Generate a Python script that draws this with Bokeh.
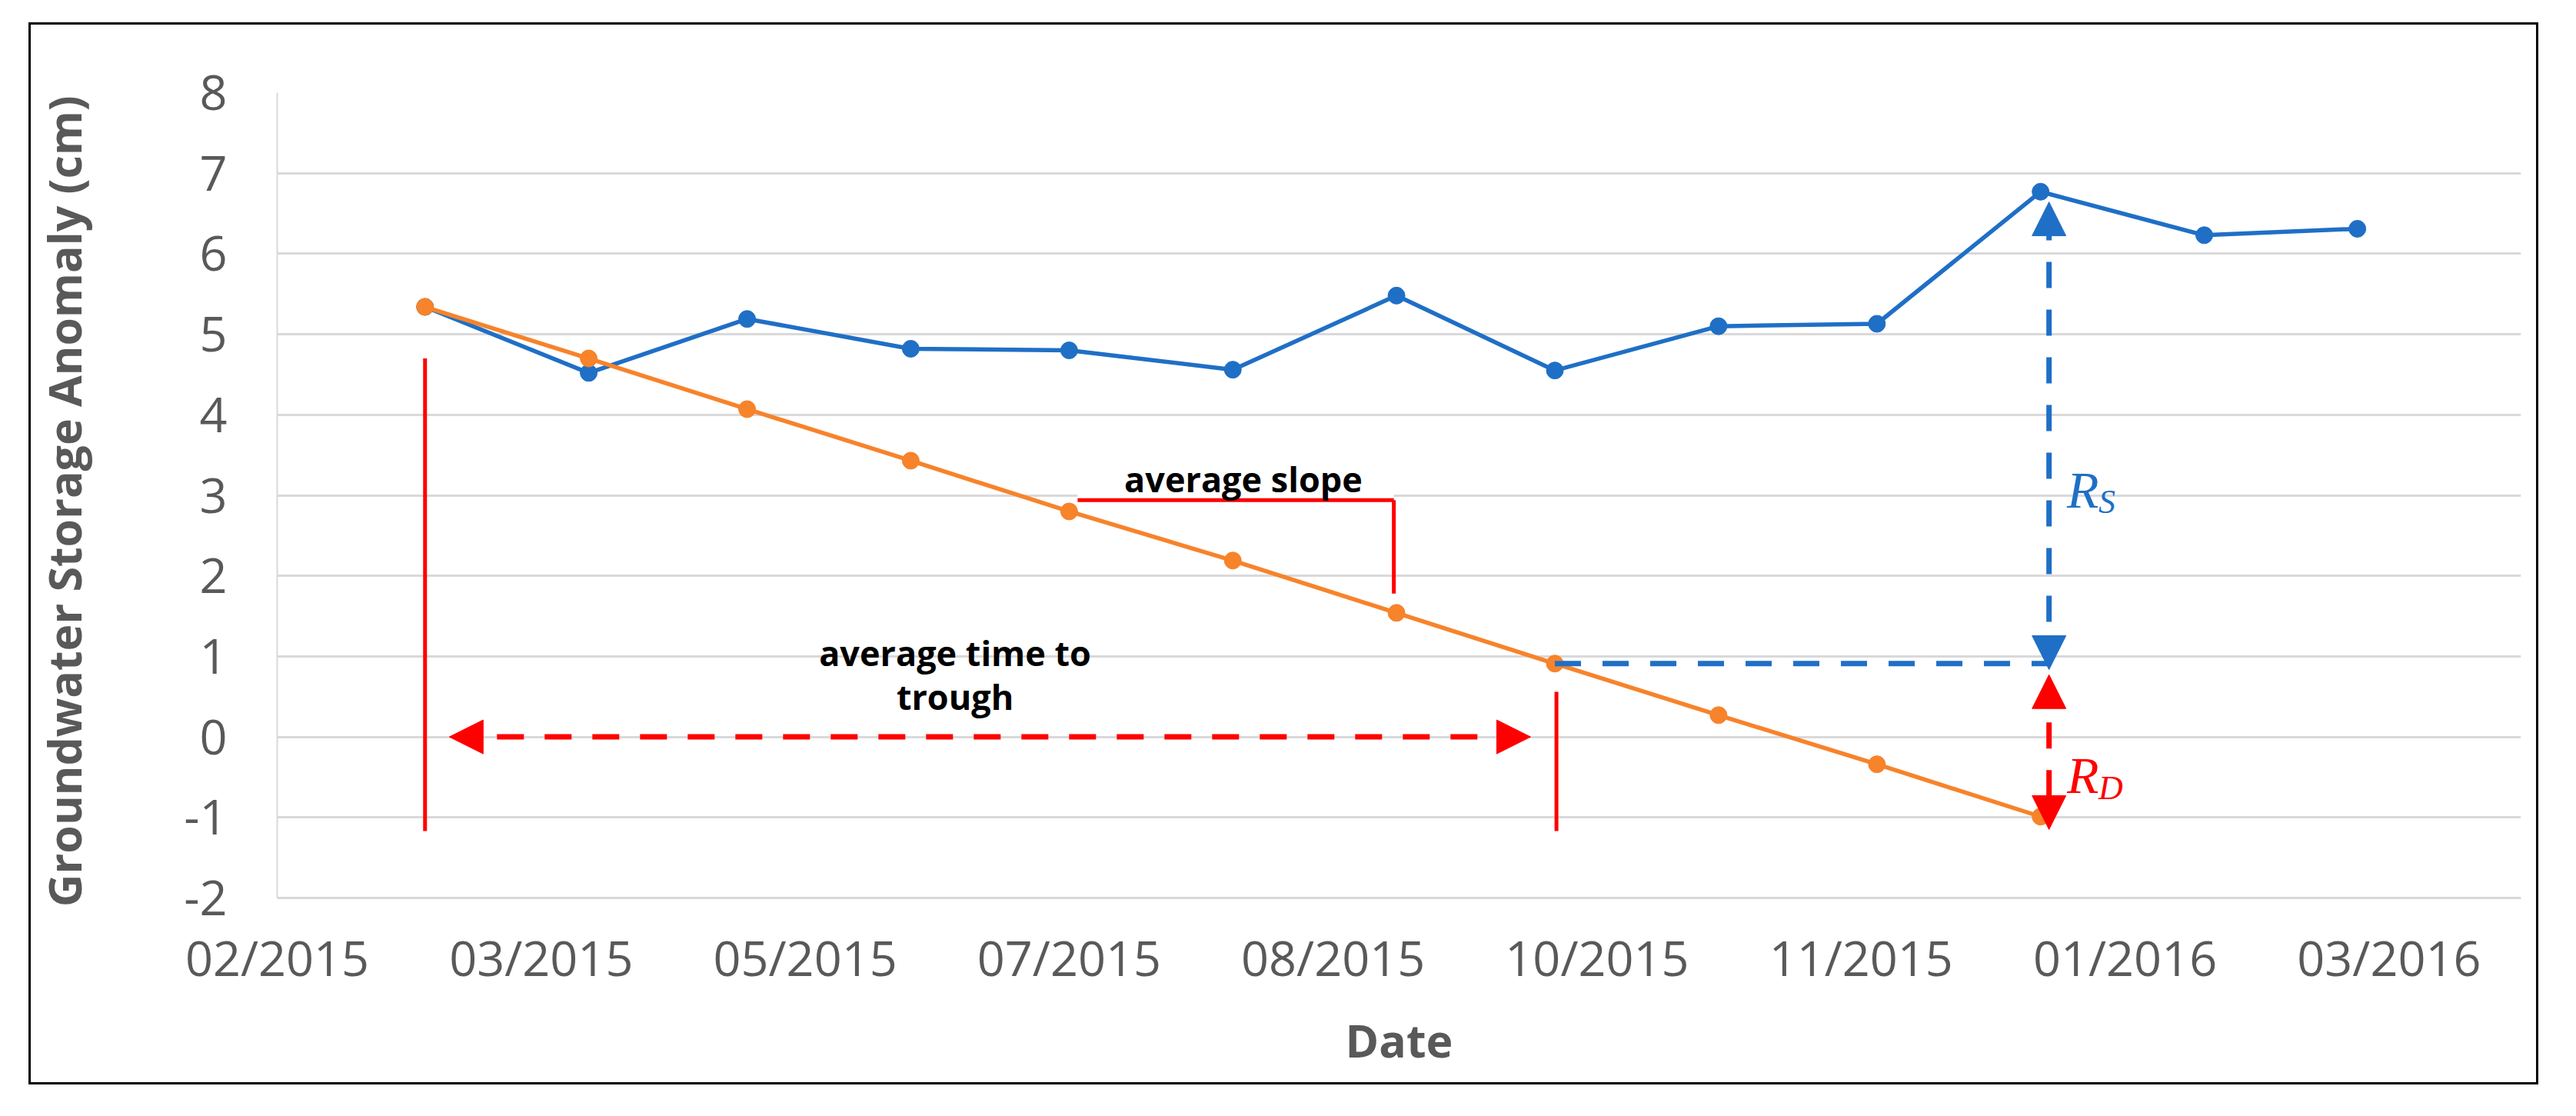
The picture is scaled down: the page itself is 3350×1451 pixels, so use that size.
import pandas as pd
from bokeh.plotting import figure
from bokeh.models import (Range1d, FixedTicker, DatetimeTickFormatter, Arrow,
                          NormalHead, Label)
from bokeh.embed import file_html
from bokeh.resources import INLINE

# ---------------- data ----------------
dates = ["2015-03-01", "2015-04-01", "2015-05-01", "2015-06-01", "2015-07-01",
         "2015-08-01", "2015-09-01", "2015-10-01", "2015-11-01", "2015-12-01",
         "2016-01-01", "2016-02-01", "2016-03-01"]
storage = [5.34, 4.52, 5.19, 4.82, 4.80, 4.56, 5.48, 4.55, 5.10, 5.13, 6.77, 6.23, 6.31]
trend = [5.34, 4.70, 4.07, 3.43, 2.80, 2.19, 1.54, 0.91, 0.27, -0.34, -0.99]
tick_dates = ["2015-02-01", "2015-03-23", "2015-05-12", "2015-07-01", "2015-08-20",
              "2015-10-09", "2015-11-28", "2016-01-17", "2016-03-07"]
y_ticks = [-2, -1, 0, 1, 2, 3, 4, 5, 6, 7, 8]
x_start, x_end = "2015-02-01", "2016-04-01"


def ms(s, days=0.0):
    return (pd.Timestamp(s) + pd.Timedelta(days=days)).value / 1e6


BLUE = "#1f6fc6"
ORANGE = "#f7832b"
RED = "#ff0000"
GRID = "#d9d9d9"
TXT = "#595959"
SANS = "Open Sans"

p = figure(width=3264, height=1381, x_axis_type="datetime",
           x_range=Range1d(ms(x_start), ms(x_end)), y_range=Range1d(-2, 8),
           output_backend="svg", toolbar_location=None,
           min_border_left=316, min_border_right=26, min_border_top=88,
           min_border_bottom=246, outline_line_color=None,
           background_fill_color="white", border_fill_color="white")
p.margin = (29, 0, 0, 37)
p.styles = {"border": "3px solid black"}

# axes
p.xaxis.ticker = FixedTicker(ticks=[ms(d) for d in tick_dates])
p.xaxis.formatter = DatetimeTickFormatter(
    microseconds="%m/%Y", milliseconds="%m/%Y", seconds="%m/%Y", minsec="%m/%Y",
    minutes="%m/%Y", hourmin="%m/%Y", hours="%m/%Y", days="%m/%Y",
    months="%m/%Y", years="%m/%Y")
p.yaxis.ticker = FixedTicker(ticks=y_ticks)
p.yaxis.major_label_overrides = {t: str(t) for t in y_ticks}
for ax in (p.xaxis, p.yaxis):
    ax.major_tick_line_color = None
    ax.minor_tick_line_color = None
    ax.major_tick_out = 0
    ax.major_tick_in = 0
    ax.minor_tick_out = 0
    ax.minor_tick_in = 0
    ax.major_label_text_font = SANS
    ax.major_label_text_font_size = "63px"
    ax.major_label_text_color = TXT
    ax.axis_label_text_font = SANS
    ax.axis_label_text_font_style = "bold"
    ax.axis_label_text_color = TXT
    ax.axis_label_text_font_size = "59px"
p.xaxis.axis_line_color = GRID
p.xaxis.axis_line_width = 3
p.yaxis.axis_line_color = GRID
p.yaxis.axis_line_width = 2
p.xaxis.axis_label = "Date"
p.yaxis.axis_label = "Groundwater Storage Anomaly  (cm)"
p.xaxis.major_label_standoff = 34
p.yaxis.major_label_standoff = 65
p.xaxis.axis_label_standoff = 22
p.yaxis.axis_label_standoff = 113
p.xgrid.visible = False
p.ygrid.grid_line_color = GRID
p.ygrid.grid_line_width = 3

# white patch of the "average slope" text box hiding the gridline
p.quad(left=ms(dates[4], 1.6), right=ms(dates[6], -0.5), bottom=2.95, top=3.35,
       fill_color="white", line_color=None)

# series
xs = [pd.Timestamp(d) for d in dates]
p.line(xs, storage, line_color=BLUE, line_width=5.5)
p.scatter(xs, storage, size=22, fill_color=BLUE, line_color=BLUE)
p.line(xs[:len(trend)], trend, line_color=ORANGE, line_width=5.5)
p.scatter(xs[:len(trend)], trend, size=22, fill_color=ORANGE, line_color=ORANGE)

# red solid markers
p.segment(x0=[ms(dates[0]), ms(dates[7], 0.3)], x1=[ms(dates[0]), ms(dates[7], 0.3)],
          y0=[-1.17, -1.17], y1=[4.70, 0.56], line_color=RED, line_width=5)
# average slope bracket
p.segment(x0=[ms(dates[4], 1.6), ms(dates[6], -0.5)],
          x1=[ms(dates[6], -0.5), ms(dates[6], -0.5)],
          y0=[2.94, 2.94], y1=[2.94, 1.78], line_color=RED, line_width=5)

# blue dashed horizontal
arrow_x = ms(dates[10], 1.6)
p.segment(x0=[ms(dates[7])], x1=[arrow_x], y0=[trend[7]], y1=[trend[7]],
          line_color=BLUE, line_width=7, line_dash="34 28")


def head(c):
    return NormalHead(size=44, fill_color=c, line_color=c, line_width=1)


# time-to-trough double arrow
p.add_layout(Arrow(start=head(RED), end=head(RED),
                   x_start=ms(dates[0], 4.6), y_start=0,
                   x_end=ms(dates[7], -4.6), y_end=0,
                   line_color=RED, line_width=7, line_dash="35 27"))
# R_S arrow
p.add_layout(Arrow(start=head(BLUE), end=head(BLUE),
                   x_start=arrow_x, y_start=0.836, x_end=arrow_x, y_end=6.643,
                   line_color=BLUE, line_width=7, line_dash="34 28"))
# R_D arrow
p.add_layout(Arrow(start=head(RED), end=head(RED),
                   x_start=arrow_x, y_start=0.772, x_end=arrow_x, y_end=-1.15,
                   line_color=RED, line_width=7, line_dash="34 28"))

# texts
for txt, xd, yv in [("average slope", ms("2015-08-03"), 3.21),
                    ("average time to", ms("2015-06-09", 0.4), 1.047),
                    ("trough", ms("2015-06-09", 0.4), 0.50)]:
    p.add_layout(Label(x=xd, y=yv, text=txt, text_align="center",
                       text_baseline="alphabetic", text_font=SANS,
                       text_font_style="bold", text_font_size="45px",
                       text_color="black"))

for main, sub, yv, c in [("R", "S", 3.07, BLUE), ("R", "D", -0.48, RED)]:
    p.add_layout(Label(x=ms(dates[10], 5.0), y=yv, text=main, text_align="left",
                       text_baseline="alphabetic", text_font="Liberation Serif",
                       text_font_style="italic", text_font_size="68px",
                       text_color=c))
    p.add_layout(Label(x=ms(dates[10], 5.0), y=yv - 0.15, x_offset=41, text=sub,
                       text_align="left", text_baseline="alphabetic",
                       text_font="Liberation Serif", text_font_style="italic",
                       text_font_size="44px", text_color=c))

open("out.html", "w").write(file_html(p, INLINE))
